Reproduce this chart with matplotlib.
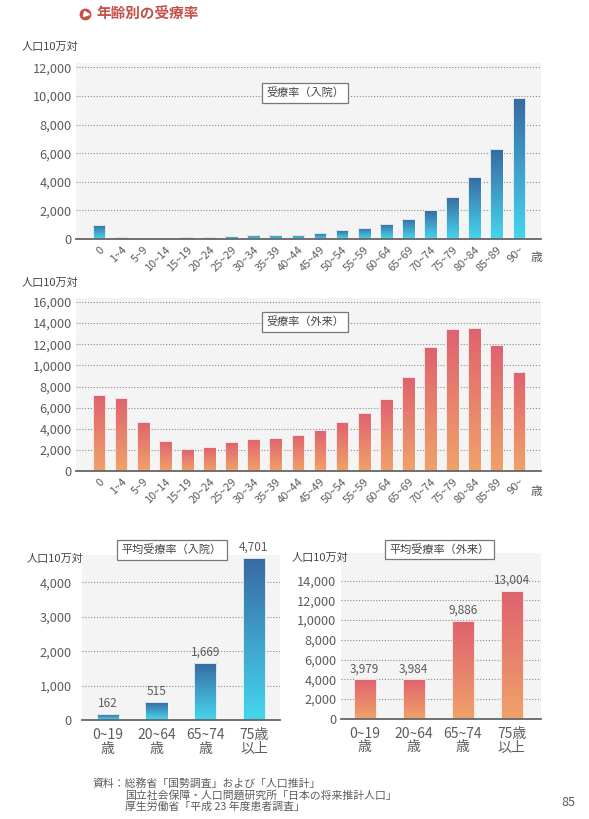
import numpy as np
import matplotlib
matplotlib.use('Agg')
import matplotlib.pyplot as plt
import matplotlib.transforms as mtransforms
from matplotlib.colors import LinearSegmentedColormap
from matplotlib.lines import Line2D

plt.rcParams['font.family'] = ['Noto Sans CJK JP', 'DejaVu Sans']

# データ（人口10万対）
ages = ['0', '1~4', '5~9', '10~14', '15~19', '20~24', '25~29', '30~34', '35~39',
        '40~44', '45~49', '50~54', '55~59', '60~64', '65~69', '70~74', '75~79',
        '80~84', '85~89', '90~']
nyuin = [1000, 170, 95, 100, 120, 160, 230, 280, 290, 310, 400, 610, 800,
         1080, 1430, 2020, 2960, 4350, 6300, 9840]
gairai = [7170, 6940, 4640, 2810, 2050, 2240, 2720, 3030, 3160, 3410, 3850,
          4610, 5460, 6820, 8870, 11710, 13420, 13540, 11900, 9400]

groups = ['0~19\n歳', '20~64\n歳', '65~74\n歳', '75歳\n以上']
avg_nyuin = [162, 515, 1669, 4701]
avg_gairai = [3979, 3984, 9886, 13004]

W, H = 589, 819
fig = plt.figure(figsize=(W / 100, H / 100), dpi=100)
fig.patch.set_facecolor('white')

TXT = '#5c5c5c'


def px(x, y):
    # ピクセル座標 -> figure座標
    return x / W, 1 - y / H


def rect(l, t, r, b):
    return [l / W, 1 - b / H, (r - l) / W, (b - t) / H]


BLUE = ('#386aa2', '#46d6ee')
RED = ('#df626f', '#f0a26a')


def gradient_bars(ax, values, width, colors):
    cmap = LinearSegmentedColormap.from_list('g', [colors[1], colors[0]])
    grad = np.linspace(0, 1, 128).reshape(-1, 1)
    x = np.arange(len(values))
    bars = ax.bar(x, values, width, color='none', edgecolor='#fafafa',
                  linewidth=0.6, zorder=3)
    for b in bars:
        x0, w, h = b.get_x(), b.get_width(), b.get_height()
        im = ax.imshow(grad, cmap=cmap, origin='lower', aspect='auto',
                       extent=(x0, x0 + w, 0, h), zorder=2.8,
                       interpolation='bilinear')
        im.set_clip_path(b)
    return bars


def style_axes(ax, ymax, ticks, labels, xlim, pad):
    ax.set_facecolor('#f4f4f4')
    ax.set_xlim(*xlim)
    ax.set_ylim(0, ymax)
    ax.set_yticks(ticks)
    ax.set_yticklabels(labels)
    ax.grid(axis='y', linestyle=(0, (1, 1.6)), color='#8a8a8a', lw=0.8)
    ax.set_axisbelow(True)
    for s in ['left', 'right', 'top']:
        ax.spines[s].set_visible(False)
    ax.spines['bottom'].set_color('#666666')
    ax.spines['bottom'].set_linewidth(1.3)
    ax.spines['bottom'].set_zorder(4)
    ax.tick_params(axis='both', length=0, colors=TXT)
    ax.tick_params(axis='y', labelsize=9.2, pad=pad)


def label_box(x, y, s):
    fig.text(*px(x, y), s, ha='center', va='center', fontsize=8,
             color='#444444',
             bbox=dict(boxstyle='square,pad=0.4', fc='white', ec='#777777', lw=0.9))


def age_ticks(ax):
    ax.set_xticks(np.arange(len(ages)))
    ax.set_xticklabels(ages, rotation=45, ha='right', va='top',
                       rotation_mode='anchor', fontsize=8)
    off = mtransforms.ScaledTranslation(4 / 100, 0, fig.dpi_scale_trans)
    for t in ax.get_xticklabels():
        t.set_transform(t.get_transform() + off)
    ax.tick_params(axis='x', pad=4)


# タイトル
fig.add_artist(Line2D([px(85, 13.5)[0]], [px(85, 13.5)[1]], marker='o',
                      markersize=7.5, color='#c8504a', transform=fig.transFigure))
fig.add_artist(Line2D([px(85.8, 13.5)[0]], [px(85.8, 13.5)[1]], marker='>',
                      markersize=3.6, color='white', transform=fig.transFigure))
fig.text(*px(96, 13.5), '年齢別の受療率', ha='left', va='center', fontsize=10.5,
         fontweight='bold', color='#c4504a')

# 受療率（入院）
ax1 = fig.add_axes(rect(76, 63, 541, 239))
gradient_bars(ax1, nyuin, 0.575, BLUE)
style_axes(ax1, 12300, np.arange(0, 12001, 2000),
           ['0', '2,000', '4,000', '6,000', '8,000', '10,000', '12,000'],
           (-1.04, 20.0), 3)
age_ticks(ax1)
fig.text(*px(50, 47), '人口10万対', ha='center', va='center', fontsize=8, color='#444444')
fig.text(*px(536, 257), '歳', ha='center', va='center', fontsize=8.5, color=TXT)
label_box(305, 93, '受療率（入院）')

# 受療率（外来）
ax2 = fig.add_axes(rect(76, 298, 541, 471))
gradient_bars(ax2, gairai, 0.575, RED)
style_axes(ax2, 16380, np.arange(0, 16001, 2000),
           ['0', '2,000', '4,000', '6,000', '8,000', '1,0000', '12,000',
            '14,000', '16,000'],
           (-1.04, 20.0), 3)
age_ticks(ax2)
fig.text(*px(50, 283), '人口10万対', ha='center', va='center', fontsize=8, color='#444444')
fig.text(*px(536, 491), '歳', ha='center', va='center', fontsize=8.5, color=TXT)
label_box(305, 322, '受療率（外来）')


def value_labels(ax, values):
    for i, v in enumerate(values):
        ax.annotate(f'{v:,}', (i, v), xytext=(0, 3), textcoords='offset points',
                    ha='center', va='bottom', fontsize=8.5, color=TXT,
                    annotation_clip=False)


def group_ticks(ax):
    ax.set_xticks(np.arange(len(groups)))
    ax.set_xticklabels(groups, fontsize=10, linespacing=0.95, va='top')
    ax.tick_params(axis='x', pad=6)


# 平均受療率（入院）
ax3 = fig.add_axes(rect(81.7, 555, 280, 720))
gradient_bars(ax3, avg_nyuin, 0.458, BLUE)
style_axes(ax3, 4793, np.arange(0, 4001, 1000),
           ['0', '1,000', '2,000', '3,000', '4,000'], (-0.536, 3.536), 7)
group_ticks(ax3)
value_labels(ax3, avg_nyuin)
fig.text(*px(55, 559), '人口10万対', ha='center', va='center', fontsize=8, color='#444444')
label_box(172, 550, '平均受療率（入院）')

# 平均受療率（外来）
ax4 = fig.add_axes(rect(340.7, 553, 540.7, 718.7))
gradient_bars(ax4, avg_gairai, 0.45, RED)
style_axes(ax4, 16810, np.arange(0, 14001, 2000),
           ['0', '2,000', '4,000', '6,000', '8,000', '1,0000', '12,000', '14,000'],
           (-0.49, 3.59), 3)
group_ticks(ax4)
value_labels(ax4, avg_gairai)
fig.text(*px(320, 558), '人口10万対', ha='center', va='center', fontsize=8, color='#444444')
label_box(439.5, 549.5, '平均受療率（外来）')

# 資料
fig.text(*px(92.7, 783.3), '資料：総務省「国勢調査」および「人口推計」',
         ha='left', va='center', fontsize=7.8, color=TXT)
fig.text(*px(125, 795), '国立社会保障・人口問題研究所「日本の将来推計人口」',
         ha='left', va='center', fontsize=7.8, color=TXT)
fig.text(*px(125, 806.7), '厚生労働省「平成 23 年度患者調査」',
         ha='left', va='center', fontsize=7.8, color=TXT)
fig.text(*px(568, 803), '85', ha='center', va='center', fontsize=9, color=TXT)

fig.savefig('out.png', dpi=100, facecolor='white')
